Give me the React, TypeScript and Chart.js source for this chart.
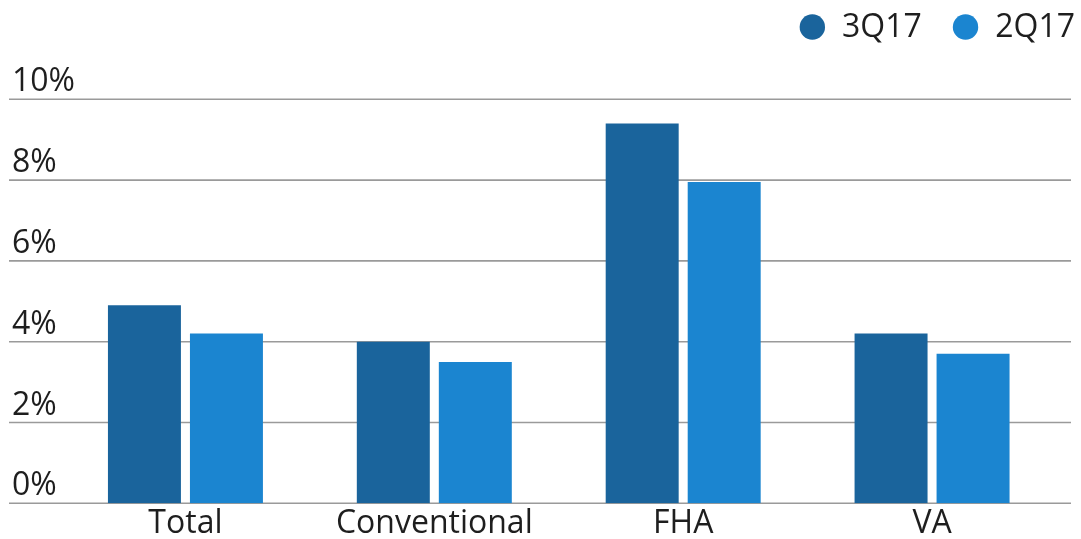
import React, { useEffect, useRef } from "react";
import { Chart, registerables } from "chart.js";

Chart.register(...registerables);

const categories = ["Total", "Conventional", "FHA", "VA"];
const series3Q17 = [4.9, 4.0, 9.4, 4.2];
const series2Q17 = [4.2, 3.5, 7.95, 3.7];
const seriesLabels = ["3Q17", "2Q17"];
const seriesColors = ["#1A649C", "#1B85D0"];
const yTicks = [0, 2, 4, 6, 8, 10];

const FONT = "'Open Sans', Lato, sans-serif";

export default function App() {
  const ref = useRef<HTMLCanvasElement | null>(null);
  useEffect(() => {
    document.body.style.margin = "0";
    const canvas = ref.current;
    if (!canvas) return;

    const gridPlugin = {
      id: "extGrid",
      beforeDatasetsDraw(chart: any) {
        const ctx = chart.ctx;
        const y = chart.scales.y;
        ctx.save();
        ctx.strokeStyle = "#9a9a9a";
        ctx.lineWidth = 1.6;
        ctx.fillStyle = "#1e1e1e";
        ctx.font = `32px ${FONT}`;
        ctx.textAlign = "left";
        ctx.textBaseline = "alphabetic";
        yTicks.forEach((t) => {
          const py = y.getPixelForValue(t);
          ctx.beginPath();
          ctx.moveTo(9, py);
          ctx.lineTo(1071, py);
          ctx.stroke();
          ctx.fillText(`${t}%`, 12, py - 8);
        });
        ctx.restore();
      },
    };

    const legendPlugin = {
      id: "customLegend",
      afterDraw(chart: any) {
        const ctx = chart.ctx;
        ctx.save();
        ctx.font = `32px ${FONT}`;
        ctx.textBaseline = "middle";
        ctx.textAlign = "left";
        const cy = 27;
        const r = 12.7;
        const gapCircleText = 17;
        const gapItems = 31;
        const items = chart.data.datasets.map((d: any) => ({
          label: d.label,
          color: d.backgroundColor,
          w: ctx.measureText(d.label).width,
        }));
        let x = 1075;
        const positions: number[] = [];
        const textXs: number[] = [];
        for (let i = items.length - 1; i >= 0; i--) {
          x -= items[i].w;
          textXs[i] = x;
          x -= gapCircleText + 2 * r;
          positions[i] = x;
          x -= gapItems;
        }
        items.forEach((it: any, i: number) => {
          ctx.beginPath();
          ctx.fillStyle = it.color;
          ctx.arc(positions[i] + r, cy, r, 0, Math.PI * 2);
          ctx.fill();
          ctx.fillStyle = "#1e1e1e";
          ctx.fillText(it.label, textXs[i], cy + 1);
        });
        ctx.restore();
      },
    };

    const chart = new Chart(canvas, {
      type: "bar",
      data: {
        labels: categories,
        datasets: [
          {
            label: seriesLabels[0],
            data: series3Q17,
            backgroundColor: seriesColors[0],
            categoryPercentage: 0.659,
            barPercentage: 0.89,
          },
          {
            label: seriesLabels[1],
            data: series2Q17,
            backgroundColor: seriesColors[1],
            categoryPercentage: 0.659,
            barPercentage: 0.89,
          },
        ],
      },
      options: {
        animation: false,
        responsive: false,
        maintainAspectRatio: false,
        layout: { padding: { left: 61, right: 24.5, top: 99.3, bottom: 0 } },
        plugins: {
          legend: { display: false },
          tooltip: { enabled: false },
        },
        scales: {
          x: {
            grid: { display: false },
            border: { display: false },
            ticks: {
              color: "#1e1e1e",
              font: { family: FONT, size: 32 },
              padding: -7,
              maxRotation: 0,
            },
            afterFit: (scale: any) => {
              scale.height = 35.7;
            },
          },
          y: {
            display: false,
            min: 0,
            max: 10,
          },
        },
      },
      plugins: [gridPlugin, legendPlugin],
    });
    return () => chart.destroy();
  }, []);

  return (
    <div style={{ position: "fixed", left: 0, top: 0, width: 1081, height: 539, background: "#fff" }}>
      <canvas ref={ref} width={1081} height={539} style={{ width: 1081, height: 539, display: "block" }} />
    </div>
  );
}
